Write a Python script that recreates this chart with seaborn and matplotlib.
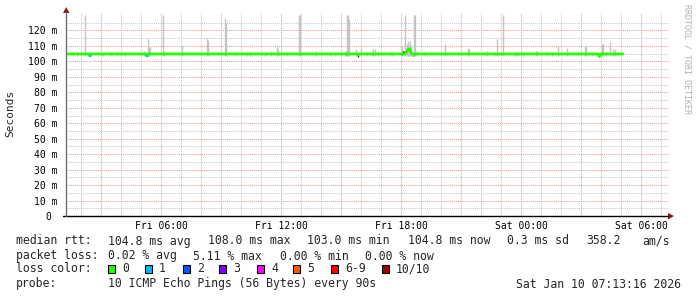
import numpy as np
import pandas as pd
import matplotlib
matplotlib.use("Agg")
import matplotlib.pyplot as plt
import seaborn as sns
from matplotlib.patches import Rectangle, Polygon
from matplotlib.lines import Line2D
from matplotlib.ticker import FixedLocator, FixedFormatter

# ---------------- data (hours since Fri 00:00, values in ms) ----------------
median_hours = [1.25, 2.40, 2.45, 2.50, 5.25, 5.30, 5.35, 15.80, 15.85, 15.90,
                18.20, 18.30, 18.35, 18.45, 18.50, 18.55, 27.85, 27.90, 27.95, 28.00, 29.10]
median_ms = [104.8, 104.8, 103.4, 104.8, 104.8, 103.4, 104.8, 104.8, 104.3, 104.8,
             104.8, 106.5, 108.0, 108.0, 106.0, 104.8, 104.8, 103.5, 103.5, 104.8, 104.8]

smoke_hours = [1.60, 1.80, 2.20, 3.10, 3.50, 3.80, 4.20, 5.15, 5.35, 5.40, 5.45,
               6.10, 6.15, 7.05, 8.30, 8.35, 9.20, 9.25, 9.75, 10.30, 10.45, 11.20,
               11.50, 11.80, 11.85, 12.30, 12.90, 12.95, 13.75, 14.45, 14.70, 15.20,
               15.25, 15.30, 15.35, 15.40, 15.75, 16.00, 16.30, 16.55, 16.60, 16.70,
               16.85, 17.45, 17.55, 18.05, 18.20, 18.30, 18.35, 18.40, 18.45, 18.50,
               18.65, 18.70, 18.80, 19.20, 20.20, 21.35, 21.40, 22.30, 22.70, 22.80,
               23.10, 23.65, 23.75, 23.85, 24.10, 24.75, 24.80, 25.30, 25.55, 25.85,
               26.30, 26.85, 27.20, 27.25, 27.55, 28.05, 28.10, 28.25, 28.45, 28.60,
               28.70, 28.85]
smoke_max_ms = [106.0, 106.0, 130.0, 106.0, 106.0, 106.0, 106.0, 107.0, 114.7, 109.0, 109.0,
                130.0, 107.0, 110.0, 115.0, 113.6, 128.0, 125.0, 106.0, 106.0, 106.0, 106.0,
                107.0, 110.0, 108.0, 106.0, 130.0, 130.0, 107.0, 106.0, 106.0, 107.0,
                107.0, 130.0, 130.0, 127.0, 108.0, 108.6, 106.0, 106.5, 108.0, 108.0,
                107.0, 106.0, 106.0, 110.0, 130.0, 111.0, 113.0, 110.0, 113.0, 110.0,
                130.0, 130.0, 107.0, 106.0, 111.0, 108.6, 108.0, 107.0, 106.0, 114.7,
                130.0, 106.0, 106.0, 106.0, 106.0, 107.0, 107.0, 106.0, 106.0, 110.0,
                108.6, 106.0, 110.0, 109.0, 106.0, 111.0, 111.0, 106.0, 112.5, 108.0,
                108.0, 106.0]
smoke_min_ms = 103.8

inner_hours = [15.85, 18.10, 18.15, 18.60, 27.90]
inner_low_ms = [103.0, 104.5, 104.5, 103.4, 103.0]
inner_high_ms = [104.0, 107.0, 106.5, 104.0, 104.0]

loss_hours = [2.45, 5.30]
loss_pings = [1, 1]

loss_labels = ["0", "1", "2", "3", "4", "5", "6-9", "10/10"]
loss_colors = ["#26ff00", "#00b8ff", "#0059ff", "#7e00ff", "#ff00ff", "#ff5500", "#ff0000", "#a00000"]

y_ticks = [0, 10, 20, 30, 40, 50, 60, 70, 80, 90, 100, 110, 120]
y_labels = ["0 ", "10 m", "20 m", "30 m", "40 m", "50 m", "60 m", "70 m", "80 m",
            "90 m", "100 m", "110 m", "120 m"]
x_label_hours = [6, 12, 18, 24, 30]
x_labels = ["Fri 06:00", "Fri 12:00", "Fri 18:00", "Sat 00:00", "Sat 06:00"]

legend_rows = [
    ("median rtt:", [(108, "104.8 ms avg"), (208, "108.0 ms max"), (307, "103.0 ms min"),
                     (408, "104.8 ms now"), (507, "0.3 ms sd"), (586, "358.2"), (642, "am/s")]),
    ("packet loss:", [(108, "0.02 % avg"), (193, "5.11 % max"), (280, "0.00 % min"),
                      (365, "0.00 % now")]),
    ("loss color:", []),
    ("probe:", [(108, "10 ICMP Echo Pings (56 Bytes) every 90s")]),
]
stamp = "Sat Jan 10 07:13:16 2026"

# ---------------- figure ----------------
W, H = 697, 297
sns.set_style("white")
plt.rcParams["font.family"] = ["DejaVu Sans Mono", "DejaVu Sans"]
mono = "DejaVu Sans Mono"

fig = plt.figure(figsize=(W / 100, H / 100), dpi=100)
fig.patch.set_facecolor("white")


def fx(x):
    return x / W


def fy(y):
    return 1 - y / H


ax_left, ax_right, ax_top, ax_bottom = 66, 669, 13, 216
ax = fig.add_axes([fx(ax_left), fy(ax_bottom), (ax_right - ax_left) / W, (ax_bottom - ax_top) / H])
ax.set_facecolor("white")
x0 = 6 - (161 - ax_left) / 20
x1 = 6 + (ax_right - 161) / 20
ax.set_xlim(x0, x1)
ax.set_ylim(0, 131.3)

# grid
ax.yaxis.set_major_locator(FixedLocator(y_ticks))
ax.yaxis.set_major_formatter(FixedFormatter(y_labels))
ax.yaxis.set_minor_locator(FixedLocator([5 + 10 * i for i in range(13)]))
maj = [3 * i for i in range(1, 11) if x0 < 3 * i < x1]
ax.xaxis.set_major_locator(FixedLocator(maj))
ax.xaxis.set_major_formatter(FixedFormatter([x_labels[x_label_hours.index(h)] if h in x_label_hours else "" for h in maj]))
ax.xaxis.set_minor_locator(FixedLocator([h for h in range(2, 32) if h % 3 != 0 and x0 < h < x1]))

dots = (0, (1, 1))
ax.grid(which="minor", axis="both", color="#c8c8c8", linestyle=dots, linewidth=0.75)
ax.grid(which="major", axis="both", color="#e4a0a0", linestyle=dots, linewidth=0.75)
ax.set_axisbelow(True)

ax.tick_params(axis="y", which="major", length=3, width=0.7, color="#707070", pad=3,
               labelsize=7, labelcolor="#000000")
ax.tick_params(axis="y", which="minor", length=0)
ax.tick_params(axis="x", which="both", length=2, width=0.6, color="#909090", pad=1.5,
               labelsize=7, labelcolor="#000000")
for lab in ax.get_yticklabels() + ax.get_xticklabels():
    lab.set_fontfamily(mono)

for s in ax.spines.values():
    s.set_visible(False)

# smoke
ax.vlines(smoke_hours, smoke_min_ms, smoke_max_ms, color="#c4c4c4", linewidth=1.0, zorder=2)
ax.vlines(inner_hours, inner_low_ms, inner_high_ms, color="#303030", linewidth=1.0, zorder=3)

# median
med = pd.DataFrame({"hour": median_hours, "ms": median_ms})
sns.lineplot(data=med, x="hour", y="ms", ax=ax, color=loss_colors[0], linewidth=2.0,
             estimator=None, sort=True, zorder=4)
for h, n in zip(loss_hours, loss_pings):
    base = float(np.interp(h, median_hours, median_ms))
    ax.vlines([h], base - 0.6, base + 0.6, color=loss_colors[n], linewidth=1.4, zorder=5)
ax.set_xlabel("")
ax.set_ylabel("")

# axis lines and arrows
fig.add_artist(Line2D([fx(63), fx(668)], [fy(ax_bottom), fy(ax_bottom)], color="black", linewidth=1.0))
fig.add_artist(Line2D([fx(ax_left), fx(ax_left)], [fy(ax_bottom), fy(12)], color="#707070", linewidth=1.0))
fig.add_artist(Polygon([(fx(63), fy(13)), (fx(69.5), fy(13)), (fx(66.2), fy(7))], closed=True,
                       facecolor="#8b1a1a", edgecolor="none"))
fig.add_artist(Polygon([(fx(668), fy(213)), (fx(668), fy(219.5)), (fx(674), fy(216))], closed=True,
                       facecolor="#8b1a1a", edgecolor="none"))

# labels
fig.text(fx(10.5), fy(113), "Seconds", rotation=90, ha="center", va="center", fontsize=8, family=mono)
fig.text(fx(687), fy(59), "RRDTOOL / TOBI OETIKER", rotation=270, ha="center", va="center",
         fontsize=6, family=mono, color="#b0b0b0")

# legend
row_y = [241, 256, 269, 284]
fs = 8.3
for (head, items), yy in zip(legend_rows, row_y):
    fig.text(fx(16), fy(yy), head, ha="left", va="center", fontsize=fs, family=mono)
    for xx, s in items:
        fig.text(fx(xx), fy(yy), s, ha="left", va="center", fontsize=fs, family=mono)

sq_x = [108, 145, 183, 219, 257, 293, 331, 382]
for xx, lab, col in zip(sq_x, loss_labels, loss_colors):
    fig.add_artist(Rectangle((fx(xx), fy(273)), 7 / W, 8 / H, facecolor=col, edgecolor="black",
                             linewidth=0.8))
    fig.text(fx(xx + 14), fy(row_y[2]), lab, ha="left", va="center", fontsize=fs, family=mono)

fig.text(fx(681), fy(row_y[3]), stamp, ha="right", va="center", fontsize=fs, family=mono)

fig.savefig("out.png", dpi=100, facecolor="white")
